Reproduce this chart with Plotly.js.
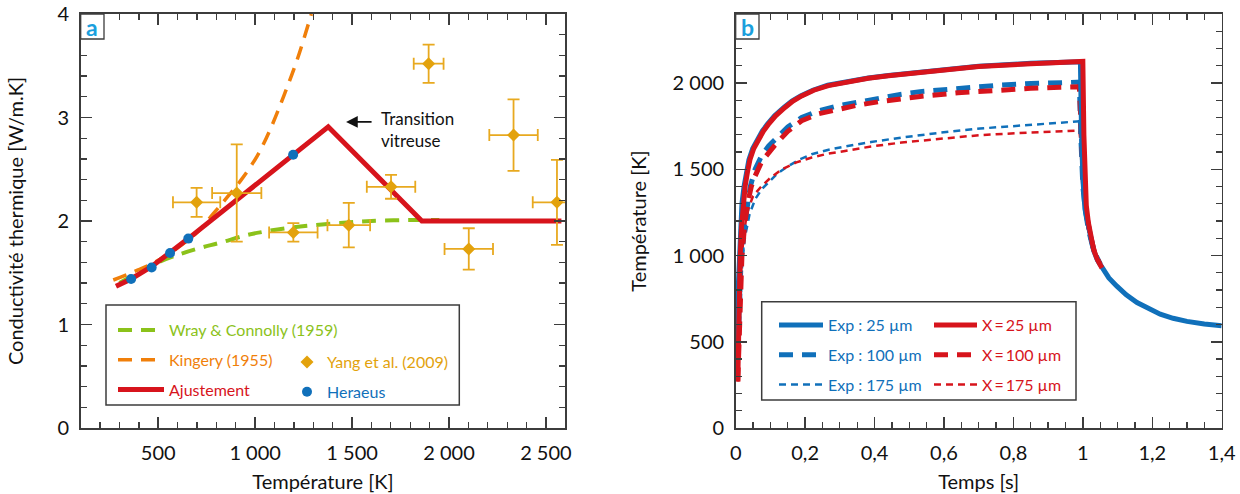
<!DOCTYPE html>
<html>
<head>
<meta charset="utf-8">
<script src="https://cdn.plot.ly/plotly-3.0.1.min.js"></script>
<style>html,body{margin:0;padding:0;background:#fff;}#chart{width:1240px;height:494px;}</style>
</head>
<body>
<div id="chart"></div>
<script>
// ---------- Panel a data : thermal conductivity vs temperature ----------
const wrayT = [300, 423, 492, 612, 716, 819, 948, 1025, 1200, 1438, 1600, 1853, 1950];
const wrayK = [1.40, 1.53, 1.595, 1.68, 1.74, 1.79, 1.86, 1.89, 1.94, 1.98, 2.00, 2.01, 2.01];

const kingT = [268, 400, 500, 600, 700, 784, 856, 925, 1011, 1079, 1148, 1217, 1290];
const kingK = [1.43, 1.53, 1.62, 1.74, 1.89, 2.07, 2.23, 2.39, 2.63, 2.89, 3.21, 3.56, 4.00];

const fitT = [282, 360, 466, 561, 655, 1377, 1860, 2580];
const fitK = [1.37, 1.44, 1.56, 1.69, 1.83, 2.91, 2.00, 2.00];

const yangT    = [698, 905, 1197, 1483, 1701, 1895, 2102, 2333, 2557];
const yangK    = [2.18, 2.27, 1.89, 1.96, 2.33, 3.52, 1.73, 2.83, 2.18];
const yangErrK = [0.14, 0.47, 0.09, 0.215, 0.115, 0.185, 0.20, 0.345, 0.41];
const yangErrT = [122, 127, 125, 110, 125, 77, 125, 125, 125];

const herT = [360, 466, 561, 655, 1196];
const herK = [1.44, 1.55, 1.69, 1.83, 2.64];

// ---------- Panel b data : temperature vs time ----------
const exp25t = [0, 0.003, 0.005, 0.007, 0.010, 0.014, 0.018, 0.024, 0.031, 0.038, 0.049, 0.062, 0.077, 0.091, 0.112, 0.139, 0.162, 0.187, 0.222, 0.265, 0.32, 0.382, 0.44, 0.5, 0.6, 0.7, 0.85, 0.92, 0.993,
                0.996, 1.0, 1.006, 1.016, 1.023, 1.031, 1.042, 1.055, 1.075, 1.098, 1.125, 1.156, 1.19, 1.223, 1.26, 1.3, 1.35, 1.4];
const exp25T = [280, 400, 550, 800, 1000, 1170, 1300, 1400, 1485, 1555, 1620, 1675, 1722, 1760, 1810, 1858, 1895, 1925, 1958, 1987, 2009, 2029, 2044, 2057, 2078, 2097, 2114, 2120, 2123,
                1750, 1450, 1270, 1160, 1095, 1030, 973, 928, 870, 822, 772, 727, 690, 660, 636, 618, 603, 593];

const x25t = [0.006, 0.008, 0.010, 0.013, 0.017, 0.021, 0.027, 0.034, 0.041, 0.052, 0.065, 0.080, 0.094, 0.115, 0.142, 0.165, 0.19, 0.225, 0.267, 0.32, 0.382, 0.44, 0.5, 0.6, 0.7, 0.85, 0.92, 1.0,
              1.003, 1.006, 1.010, 1.016, 1.023, 1.031, 1.042, 1.055];
const x25T = [270, 550, 800, 1000, 1170, 1300, 1400, 1485, 1555, 1620, 1675, 1722, 1760, 1810, 1858, 1895, 1925, 1958, 1985, 2007, 2027, 2042, 2055, 2076, 2095, 2112, 2119, 2125,
              1700, 1420, 1290, 1190, 1105, 1035, 975, 928];

const exp100t = [0.004, 0.009, 0.015, 0.022, 0.03, 0.042, 0.056, 0.075, 0.095, 0.113, 0.15, 0.19, 0.24, 0.296, 0.35, 0.411, 0.47, 0.531, 0.64, 0.762, 0.85, 0.934, 0.99,
                 0.994, 1.0, 1.008, 1.016, 1.031, 1.05];
const exp100T = [300, 700, 950, 1130, 1260, 1400, 1500, 1580, 1635, 1674, 1745, 1800, 1840, 1868, 1890, 1911, 1932, 1950, 1970, 1988, 1997, 2004, 2005,
                 1700, 1400, 1250, 1150, 1030, 950];

const x100t = [0.006, 0.011, 0.018, 0.026, 0.035, 0.045, 0.056, 0.075, 0.095, 0.113, 0.15, 0.19, 0.24, 0.296, 0.35, 0.411, 0.47, 0.531, 0.64, 0.762, 0.85, 0.934, 0.99,
               0.996, 1.002, 1.01, 1.02, 1.035, 1.05];
const x100T = [270, 700, 1000, 1180, 1310, 1400, 1461, 1545, 1600, 1640, 1720, 1781, 1822, 1849, 1871, 1891, 1907, 1922, 1943, 1961, 1969, 1975, 1978,
               1700, 1400, 1250, 1130, 1010, 950];

const exp175t = [0.005, 0.010, 0.015, 0.019, 0.027, 0.04, 0.056, 0.075, 0.094, 0.12, 0.152, 0.185, 0.219, 0.265, 0.315, 0.39, 0.478, 0.59, 0.704, 0.84, 0.973, 0.99,
                 0.995, 1.0, 1.01, 1.02, 1.035, 1.05];
const exp175T = [300, 500, 750, 977, 1110, 1240, 1326, 1385, 1422, 1475, 1519, 1557, 1587, 1612, 1632, 1658, 1684, 1712, 1736, 1757, 1775, 1778,
                 1600, 1350, 1200, 1100, 1000, 940];

const x175t = [0.006, 0.010, 0.015, 0.022, 0.029, 0.036, 0.05, 0.075, 0.1, 0.133, 0.175, 0.219, 0.265, 0.315, 0.39, 0.478, 0.59, 0.704, 0.84, 0.973, 0.99,
               0.996, 1.002, 1.01, 1.02, 1.035, 1.05];
const x175T = [270, 600, 900, 1100, 1200, 1267, 1345, 1403, 1450, 1500, 1540, 1568, 1590, 1606, 1632, 1655, 1678, 1698, 1712, 1723, 1725,
               1600, 1350, 1200, 1100, 1000, 940];

// ---------- styling ----------
const FONT = "Lato, 'Liberation Sans', sans-serif";
const GREEN = '#8BC21A', ORANGE = '#F07F0A', RED = '#D7141C', GOLD = '#E3A20C', BLUE = '#1070BA';
const AXC = '#3c3c3c';
const W = 1240, H = 494;
const px = x => x / W, py = y => 1 - y / H;

function span(c, t) { return '<span style="color:' + c + '">' + t + '</span>'; }

const traces = [
  {x: wrayT, y: wrayK, xaxis: 'x', yaxis: 'y', mode: 'lines', line: {color: GREEN, width: 4, dash: '14px,9px', shape: 'spline'},
   name: span(GREEN, 'Wray &amp; Connolly (1959)'), legend: 'legend', legendgroup: 'g1', legendrank: 1},
  {x: kingT, y: kingK, xaxis: 'x', yaxis: 'y', mode: 'lines', line: {color: ORANGE, width: 3.5, dash: '14px,9px', shape: 'spline'},
   name: span(ORANGE, 'Kingery (1955)'), legend: 'legend', legendgroup: 'g2', legendrank: 2},
  {x: fitT, y: fitK, xaxis: 'x', yaxis: 'y', mode: 'lines', line: {color: RED, width: 5},
   name: span(RED, 'Ajustement'), legend: 'legend', legendgroup: 'g3', legendrank: 3},
  {x: yangT, y: yangK, xaxis: 'x', yaxis: 'y', mode: 'markers', marker: {symbol: 'diamond', size: 10, color: GOLD},
   error_y: {type: 'data', array: yangErrK, color: '#E8A91F', thickness: 1.8, width: 6},
   error_x: {type: 'data', array: yangErrT, color: '#E8A91F', thickness: 1.8, width: 6},
   name: span(GOLD, 'Yang et al. (2009)'), legend: 'legend2', legendgroup: 'g4', legendrank: 1},
  {x: herT, y: herK, xaxis: 'x', yaxis: 'y', mode: 'markers', marker: {symbol: 'circle', size: 10, color: BLUE},
   name: span(BLUE, 'Heraeus'), legend: 'legend2', legendgroup: 'g5', legendrank: 2},

  {x: exp175t, y: exp175T, xaxis: 'x2', yaxis: 'y2', mode: 'lines', line: {color: BLUE, width: 2.5, dash: '7px,5px'},
   name: span(BLUE, 'Exp\u202F: 175 µm'), legend: 'legend3', legendgroup: 'h3', legendrank: 3},
  {x: x175t, y: x175T, xaxis: 'x2', yaxis: 'y2', mode: 'lines', line: {color: RED, width: 2.5, dash: '7px,5px'},
   name: span(RED, 'X\u2009=\u2009175 µm'), legend: 'legend4', legendgroup: 'h6', legendrank: 3},
  {x: exp100t, y: exp100T, xaxis: 'x2', yaxis: 'y2', mode: 'lines', line: {color: BLUE, width: 5, dash: '14px,9px'},
   name: span(BLUE, 'Exp\u202F: 100 µm'), legend: 'legend3', legendgroup: 'h2', legendrank: 2},
  {x: x100t, y: x100T, xaxis: 'x2', yaxis: 'y2', mode: 'lines', line: {color: RED, width: 5, dash: '14px,9px'},
   name: span(RED, 'X\u2009=\u2009100 µm'), legend: 'legend4', legendgroup: 'h5', legendrank: 2},
  {x: exp25t, y: exp25T, xaxis: 'x2', yaxis: 'y2', mode: 'lines', line: {color: BLUE, width: 5},
   name: span(BLUE, 'Exp\u202F: 25 µm'), legend: 'legend3', legendgroup: 'h1', legendrank: 1},
  {x: x25t, y: x25T, xaxis: 'x2', yaxis: 'y2', mode: 'lines', line: {color: RED, width: 5},
   name: span(RED, 'X\u2009=\u200925 µm'), legend: 'legend4', legendgroup: 'h4', legendrank: 1}
];

function axisBase(extra) {
  return Object.assign({
    showline: true, linecolor: AXC, linewidth: 1.6, mirror: 'allticks',
    ticks: 'inside', ticklen: 11, tickwidth: 1.5, tickcolor: AXC,
    showgrid: false, zeroline: false, separatethousands: true,
    tickfont: {family: FONT, size: 20, color: '#111'},
    ticklabelstandoff: 6,
    fixedrange: true
  }, extra);
}
function minor(d) { return {dtick: d, ticks: 'inside', ticklen: 6, tickwidth: 1.3, tickcolor: AXC, showgrid: false}; }

const legBase = {bgcolor: 'rgba(0,0,0,0)', borderwidth: 0, font: {family: FONT, size: 16}, xanchor: 'left', yanchor: 'top',
                 tracegroupgap: 6, orientation: 'v', traceorder: 'grouped'};

const layout = {
  width: W, height: H,
  margin: {l: 0, r: 0, t: 0, b: 0},
  paper_bgcolor: '#fff', plot_bgcolor: '#fff',
  separators: ', ',
  font: {family: FONT, color: '#111'},
  xaxis: axisBase({domain: [px(80.7), px(565.3)], range: [100, 2600], dtick: 500, tick0: 0, minor: minor(100), anchor: 'y',
    title: {text: 'Température [K]', font: {family: FONT, size: 20, color: '#111'}, standoff: 12}}),
  yaxis: axisBase({domain: [py(428), py(14)], range: [0, 4], dtick: 1, tick0: 0, minor: minor(0.2), anchor: 'x',
    title: {text: 'Conductivité thermique [W/m.K]', font: {family: FONT, size: 20, color: '#111'}, standoff: 28}}),
  xaxis2: axisBase({domain: [px(735.7), px(1221.7)], range: [0, 1.4], dtick: 0.2, tick0: 0, minor: minor(0.05), anchor: 'y2',
    title: {text: 'Temps [s]', font: {family: FONT, size: 20, color: '#111'}, standoff: 12}}),
  yaxis2: axisBase({domain: [py(428), py(14)], range: [0, 2400], dtick: 500, tick0: 0, minor: minor(100), anchor: 'x2',
    title: {text: 'Température [K]', font: {family: FONT, size: 20, color: '#111'}, standoff: 20}}),
  legend:  Object.assign({}, legBase, {x: px(113), y: py(313), itemwidth: 46}),
  legend2: Object.assign({}, legBase, {x: px(287), y: py(345), itemwidth: 30}),
  legend3: Object.assign({}, legBase, {x: px(774), y: py(308), itemwidth: 44}),
  legend4: Object.assign({}, legBase, {x: px(929), y: py(308), itemwidth: 43}),
  shapes: [
    {type: 'rect', xref: 'paper', yref: 'paper', x0: px(106), x1: px(459.3), y0: py(405), y1: py(305), line: {color: AXC, width: 1.5}},
    {type: 'rect', xref: 'paper', yref: 'paper', x0: px(761.7), x1: px(1076), y0: py(400), y1: py(301.7), line: {color: AXC, width: 1.5}},
    {type: 'rect', xref: 'paper', yref: 'paper', x0: px(80.7), x1: px(104), y0: py(39), y1: py(14), line: {color: AXC, width: 1.3}, fillcolor: '#fff'},
    {type: 'rect', xref: 'paper', yref: 'paper', x0: px(735.7), x1: px(759), y0: py(39), y1: py(14), line: {color: AXC, width: 1.3}, fillcolor: '#fff'}
  ],
  annotations: [
    {xref: 'paper', yref: 'paper', x: px(92.3), y: py(27), text: '<b>a</b>', showarrow: false, xanchor: 'center', yanchor: 'middle',
     font: {family: FONT, size: 23, color: '#1A9FDD'}},
    {xref: 'paper', yref: 'paper', x: px(747.3), y: py(27), text: '<b>b</b>', showarrow: false, xanchor: 'center', yanchor: 'middle',
     font: {family: FONT, size: 23, color: '#1A9FDD'}},
    {xref: 'paper', yref: 'paper', x: px(379), y: py(130), text: 'Transition<br>vitreuse', showarrow: false, xanchor: 'left', yanchor: 'middle', align: 'left',
     font: {family: FONT, size: 17, color: '#111'}},
    {xref: 'x', yref: 'y', x: 1469, y: 2.957, ax: 27, ay: 0, text: '', showarrow: true, arrowhead: 2, arrowsize: 1.3, arrowwidth: 1.8, arrowcolor: '#111'}
  ]
};

Plotly.newPlot('chart', traces, layout, {staticPlot: true, displayModeBar: false});
</script>
</body>
</html>
